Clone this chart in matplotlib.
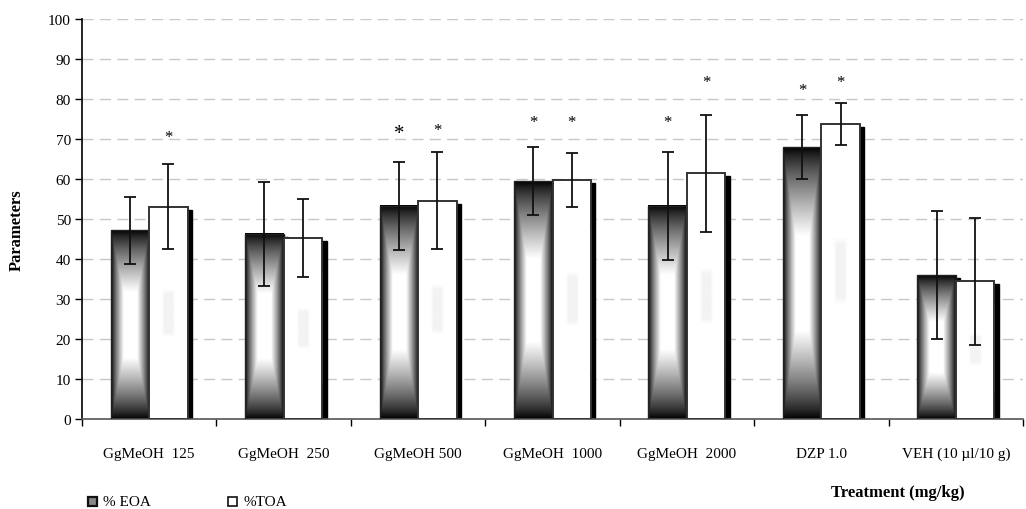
import numpy as np
import matplotlib
matplotlib.use("Agg")
import matplotlib.pyplot as plt
from matplotlib.patches import Rectangle

plt.rcParams['font.family'] = ['Liberation Serif', 'DejaVu Serif']

# data
groups = ['GgMeOH  125', 'GgMeOH  250', 'GgMeOH 500', 'GgMeOH  1000',
          'GgMeOH  2000', 'DZP 1.0', 'VEH (10 \u00b5l/10 g)']
eoa = [47.2, 46.3, 53.3, 59.5, 53.3, 67.9, 36.0]
eoa_err = [8.4, 13.0, 11.0, 8.4, 13.5, 8.0, 16.0]
toa = [53.1, 45.3, 54.6, 59.8, 61.4, 73.8, 34.4]
toa_err = [10.7, 9.7, 12.2, 6.7, 14.7, 5.2, 15.8]
# significance stars (y position), None = no star
eoa_star = [None, None, 71.4, 74.2, 74.3, 82.3, None]
toa_star = [70.5, None, 72.3, 74.2, 84.3, 84.3, None]

def center_gradient(nx=60, ny=200):
    # rectangular "from center" gradient, white in middle, black at edges
    u = np.abs(np.linspace(-1, 1, nx))[None, :]
    v = np.abs(np.linspace(-1, 1, ny))[:, None]
    d = np.maximum(u, v)
    return np.clip((1 - d) / 0.65, 0, 1) ** 0.8

def faint_stripe(nx=60, ny=200):
    u = np.abs(np.linspace(-1, 1, nx))[None, :]
    v = np.abs(np.linspace(-1, 1, ny))[:, None]
    s = np.clip((0.35 - u) / 0.15, 0, 1) * np.clip((0.38 - v) / 0.08, 0, 1)
    return 1 - 0.05 * s

fig = plt.figure(figsize=(10.26, 5.10), dpi=100)
ax = fig.add_axes([82 / 1026, 90 / 510, 941 / 1026, 400 / 510])

x = np.arange(len(groups))
w = 0.286
dx, dy = 0.033, 0.75
grad = center_gradient()
stripe = faint_stripe()

for i in x:
    # shadows
    ax.add_patch(Rectangle((i - w + dx, 0), w, eoa[i] - dy, color='black', zorder=1))
    ax.add_patch(Rectangle((i + dx, 0), w, toa[i] - dy, color='black', zorder=1))
    # EOA bar with gradient
    ax.imshow(grad, extent=[i - w, i, 0, eoa[i]], cmap='gray', vmin=0, vmax=1,
              aspect='auto', interpolation='bilinear', zorder=2)
    ax.add_patch(Rectangle((i - w, 0), w, eoa[i], fill=False, edgecolor='#222222',
                           linewidth=1.0, zorder=3))
    # TOA bar, white with faint stripe
    lo = toa[i] * 0.3
    hi = toa[i] * 0.7
    ax.add_patch(Rectangle((i, 0), w, toa[i], facecolor='white', edgecolor='none', zorder=4))
    ax.imshow(stripe, extent=[i, i + w, lo - 0.1 * toa[i], hi + 0.1 * toa[i]], cmap='gray',
              vmin=0, vmax=1, aspect='auto', interpolation='bilinear', zorder=4.5)
    ax.add_patch(Rectangle((i, 0), w, toa[i], fill=False, edgecolor='#333333',
                           linewidth=1.4, zorder=5))

ax.errorbar(x - w / 2, eoa, yerr=eoa_err, fmt='none', ecolor='#111111',
            elinewidth=1.3, capsize=4, capthick=1.3, zorder=6)
ax.errorbar(x + w / 2, toa, yerr=toa_err, fmt='none', ecolor='#111111',
            elinewidth=1.3, capsize=4, capthick=1.3, zorder=6)

for i in x:
    if eoa_star[i] is not None:
        fs = 15 if i == 2 else 12
        ax.text(i - w / 2, eoa_star[i], '*', ha='center', va='center', fontsize=fs, zorder=7)
    if toa_star[i] is not None:
        ax.text(i + w / 2, toa_star[i], '*', ha='center', va='center', fontsize=12, zorder=7)

ax.set_xlim(-0.5, len(groups) - 0.5)
ax.set_ylim(0, 100)
ax.set_yticks(np.arange(0, 101, 10))
for yv in range(10, 101, 10):
    ax.axhline(yv, color='#c8c8c8', linestyle=(0, (8, 4.5)), linewidth=1.0, zorder=0)

ax.set_xticks(x)
ax.set_xticklabels(groups, fontsize=11)
ax.set_xticks(np.arange(-0.5, len(groups)), minor=True)
ax.tick_params(axis='x', which='major', length=0, pad=20)
ax.tick_params(axis='x', which='minor', length=5, width=1, direction='out')
ax.tick_params(axis='y', length=5, width=1, labelsize=11, pad=3)

ax.spines['top'].set_visible(False)
ax.spines['right'].set_visible(False)
ax.spines['left'].set_linewidth(1.2)
ax.spines['bottom'].set_linewidth(1.2)
ax.spines['bottom'].set_color('#555555')

fig.text(17 / 1026, 1 - 230 / 510, 'Parameters', rotation=90, ha='center', va='center',
         fontsize=12, fontweight='bold')
fig.text(898 / 1026, 1 - 493 / 510, 'Treatment (mg/kg)', ha='center', va='center',
         fontsize=12, fontweight='bold')

# legend
sq = 9
fig.add_artist(Rectangle((88 / 1026, 1 - 507 / 510), sq / 1026, sq / 510,
                         facecolor='#888888', edgecolor='#111111', linewidth=1.6,
                         transform=fig.transFigure))
fig.text(103 / 1026, 1 - 503 / 510, '% EOA', ha='left', va='center', fontsize=11)
fig.add_artist(Rectangle((228 / 1026, 1 - 507 / 510), sq / 1026, sq / 510,
                         facecolor='white', edgecolor='#111111', linewidth=1.2,
                         transform=fig.transFigure))
fig.text(243 / 1026, 1 - 503 / 510, '%TOA', ha='left', va='center', fontsize=11)

fig.savefig('out.png', dpi=100)
